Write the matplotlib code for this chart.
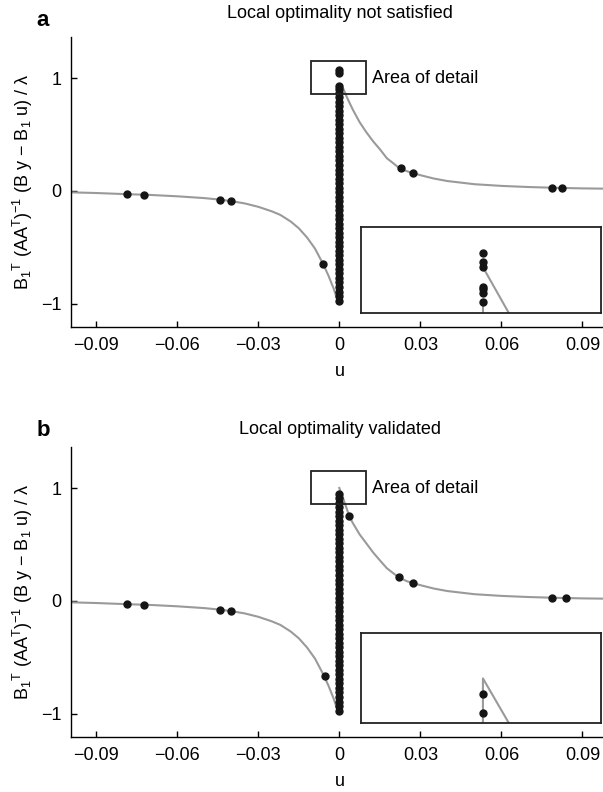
import matplotlib
matplotlib.use("Agg")
import matplotlib.pyplot as plt
from matplotlib.patches import Rectangle

plt.rcParams['font.family'] = ['Liberation Sans', 'DejaVu Sans']
plt.rcParams['mathtext.default'] = 'regular'
plt.rcParams['axes.unicode_minus'] = True

# ---- panel a : curve, samples, stacked samples at u = 0 ----
curve_left_u = [-0.0993, -0.09, -0.08, -0.07, -0.06, -0.05, -0.044, -0.04, -0.035, -0.03,
                -0.025, -0.0218, -0.018, -0.015, -0.012, -0.009, -0.006, -0.004, -0.002, -0.0005]
curve_left_a = [-0.012, -0.018, -0.027, -0.035, -0.047, -0.063, -0.077, -0.09, -0.11, -0.14,
                -0.18, -0.212, -0.27, -0.33, -0.41, -0.51, -0.646, -0.75, -0.87, -0.98]
curve_right_u = [0.0014, 0.003, 0.005, 0.0075, 0.01, 0.0125, 0.015, 0.0176, 0.02, 0.0223, 0.025,
                 0.0274, 0.03, 0.035, 0.04, 0.05, 0.06, 0.07, 0.08, 0.09, 0.1]
curve_right_a = [0.91, 0.82, 0.72, 0.61, 0.52, 0.44, 0.37, 0.29, 0.245, 0.20, 0.175,
                 0.157, 0.14, 0.11, 0.088, 0.06, 0.045, 0.035, 0.028, 0.023, 0.02]

pts_u_a = [-0.0784, -0.0722, -0.0443, -0.040, -0.006, 0.0229, 0.0274, 0.0786, 0.0823]
pts_y_a = [-0.029, -0.033, -0.077, -0.091, -0.646, 0.20, 0.157, 0.027, 0.027]

stack_a = [1.07, 1.04, 0.93, 0.90, 0.87, 0.83, 0.79, 0.75, 0.71, 0.67, 0.63, 0.59, 0.55, 0.51,
           0.47, 0.43, 0.39, 0.35, 0.31, 0.27, 0.23, 0.19, 0.15, 0.11, 0.07, 0.03, -0.01,
           -0.05, -0.09, -0.13, -0.17, -0.21, -0.25, -0.29, -0.33, -0.37, -0.41, -0.45,
           -0.49, -0.53, -0.57, -0.61, -0.65, -0.69, -0.73, -0.77, -0.81, -0.85, -0.89,
           -0.93, -0.97]

# detail view a (window = area of detail)
det_stack_a = [1.064, 1.033, 1.015, 0.946, 0.940, 0.927, 0.897]
det_line_u_a = [0.0, 0.0022]
det_line_y_a = [1.015, 0.858]
det_vert_y_a = [0.897, 0.858]

# ---- panel b ----
curve_left_b = curve_left_a
curve_right_u_b = [0.0, 0.0014, 0.003, 0.0037, 0.005, 0.0075, 0.01, 0.0125, 0.015, 0.0176, 0.02,
                   0.022, 0.025, 0.0274, 0.03, 0.035, 0.04, 0.05, 0.06, 0.07, 0.08, 0.09, 0.1]
curve_right_b = [1.0, 0.91, 0.80, 0.75, 0.69, 0.59, 0.51, 0.43, 0.36, 0.29, 0.245,
                 0.21, 0.175, 0.157, 0.14, 0.11, 0.088, 0.06, 0.045, 0.035, 0.028, 0.023, 0.02]

pts_u_b = [-0.0784, -0.0722, -0.0443, -0.040, -0.0052, 0.0037, 0.022, 0.0274, 0.0786, 0.0840]
pts_y_b = [-0.029, -0.033, -0.077, -0.091, -0.66, 0.75, 0.21, 0.157, 0.027, 0.027]

stack_b = [0.95, 0.91, 0.87, 0.83, 0.79, 0.75, 0.71, 0.67, 0.63, 0.59, 0.55, 0.51,
           0.47, 0.43, 0.39, 0.35, 0.31, 0.27, 0.23, 0.19, 0.15, 0.11, 0.07, 0.03, -0.01,
           -0.05, -0.09, -0.13, -0.17, -0.21, -0.25, -0.29, -0.33, -0.37, -0.41, -0.45,
           -0.49, -0.53, -0.57, -0.61, -0.65, -0.69, -0.73, -0.77, -0.81, -0.85, -0.89,
           -0.93, -0.97]

det_stack_b = [0.953, 0.893]
det_line_u_b = [0.0, 0.0, 0.0022]
det_line_y_b = [0.858, 1.005, 0.858]

xticks = [-0.09, -0.06, -0.03, 0, 0.03, 0.06, 0.09]
xticklabels = ['\u22120.09', '\u22120.06', '\u22120.03', '0', '0.03', '0.06', '0.09']
yticks = [-1, 0, 1]
yticklabels = ['\u22121', '0', '1']

area_box = (-0.0103, 0.858, 0.0203, 0.295)
ylab = 'B$_1$$^{T}$ (AA$^{T}$)$^{-1}$ (B y \u2212 B$_1$ u) / \u03bb'

GREY = '#9a9a9a'
DOT = '#151515'
FS = 13

fig = plt.figure(figsize=(6.03, 7.92), dpi=100)
W, H = 603.0, 792.0


def panel(top_px, letter, title, title_pad, inset_top, cl_y, cr_u, cr_y, pu, py, stack,
          dstack, dlu, dly, dvert):
    ax = fig.add_axes([71 / W, 1 - (top_px + 290) / H, 538.5 / W, 290 / H])
    ax.set_xlim(-0.0993, 0.1)
    ax.set_ylim(-1.204, 1.363)
    for s in ['top', 'right']:
        ax.spines[s].set_visible(False)
    for s in ['left', 'bottom']:
        ax.spines[s].set_linewidth(1.0)
    ax.tick_params(direction='in', length=4, width=1.0, labelsize=FS, pad=7)
    ax.set_xticks(xticks)
    ax.set_xticklabels(xticklabels)
    ax.set_yticks(yticks)
    ax.set_yticklabels(yticklabels)

    ax.plot(curve_left_u, cl_y, color=GREY, lw=1.5, zorder=2)
    ax.plot(cr_u, cr_y, color=GREY, lw=1.5, zorder=2)
    ax.plot([0] * len(stack), stack, 'o', color=DOT, ms=5, zorder=3)
    ax.plot(pu, py, 'o', color=DOT, ms=5, zorder=3)

    ax.add_patch(Rectangle(area_box[:2], area_box[2], area_box[3], fill=False,
                           edgecolor='#222222', lw=1.3, zorder=4))
    ax.text(0.0122, 1.0, 'Area of detail', fontsize=FS, va='center', ha='left')

    ax.set_xlabel('u', fontsize=FS, labelpad=7)
    ax.set_ylabel(ylab, fontsize=FS, labelpad=4)
    ax.set_title(title, fontsize=FS, pad=title_pad)
    fig.text(43 / W, 1 - (top_px - 17) / H, letter, fontsize=16, fontweight='bold',
             ha='center', va='center')

    # detail view of the boxed region
    ins = ax.inset_axes([0.0081, -1.082, 0.0888, inset_top + 1.082], transform=ax.transData)
    ins.set_xlim(area_box[0], area_box[0] + area_box[2])
    ins.set_ylim(area_box[1], area_box[1] + area_box[3])
    ins.set_xticks([])
    ins.set_yticks([])
    for s in ins.spines.values():
        s.set_linewidth(1.3)
        s.set_edgecolor('#222222')
    ins.plot(dlu, dly, color=GREY, lw=1.5, zorder=2)
    if dvert:
        ins.plot([0, 0], dvert, color=GREY, lw=1.5, zorder=2)
    ins.plot([0] * len(dstack), dstack, 'o', color=DOT, ms=5, zorder=3, clip_on=False)
    return ax


panel(37, 'a', 'Local optimality not satisfied', 14, -0.316, curve_left_a, curve_right_u,
      curve_right_a, pts_u_a, pts_y_a, stack_a, det_stack_a, det_line_u_a, det_line_y_a,
      det_vert_y_a)
panel(447, 'b', 'Local optimality validated', 9, -0.286, curve_left_b, curve_right_u_b,
      curve_right_b, pts_u_b, pts_y_b, stack_b, det_stack_b, det_line_u_b, det_line_y_b, None)

fig.savefig('out.png', dpi=100)
